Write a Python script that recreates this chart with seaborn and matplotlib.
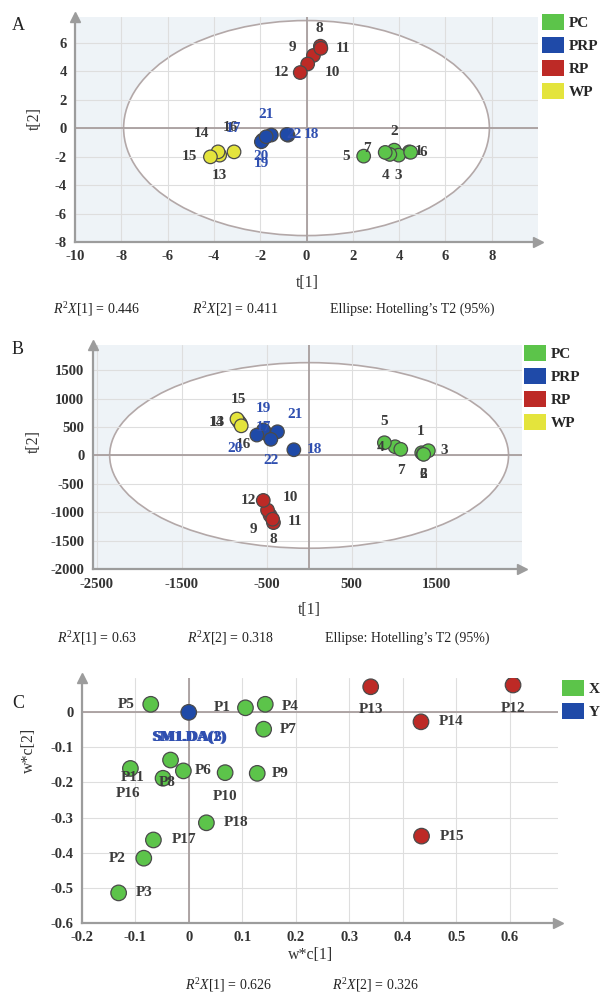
import matplotlib
matplotlib.use("Agg")
import matplotlib.pyplot as plt
import seaborn as sns
import pandas as pd
from matplotlib.patches import Ellipse, Patch
from matplotlib.ticker import MultipleLocator

sns.set_style("white")
plt.rcParams['font.family'] = ['Liberation Serif', 'DejaVu Serif']
plt.rcParams['mathtext.fontset'] = 'custom'
plt.rcParams['mathtext.rm'] = 'Liberation Serif'
plt.rcParams['mathtext.it'] = 'Liberation Serif:italic'
plt.rcParams['axes.unicode_minus'] = False

# ---------------- data ----------------
# Panel A (PCA scores)
a_labels = ['1', '2', '3', '4', '5', '6', '7',
            '8', '9', '10', '11', '12',
            '13', '14', '15', '16',
            '17', '18', '19', '20', '21', '22']
a_t1 = [4.44, 3.79, 3.98, 3.60, 2.47, 4.50, 3.40,
        0.60, 0.30, 0.05, 0.62, -0.27,
        -3.75, -3.82, -4.15, -3.13,
        -1.52, -0.80, -1.90, -1.95, -1.74, -0.85]
a_t2 = [-1.67, -1.55, -1.90, -1.85, -1.97, -1.70, -1.71,
        5.75, 5.10, 4.50, 5.60, 3.90,
        -1.90, -1.67, -2.02, -1.67,
        -0.49, -0.50, -0.85, -0.96, -0.61, -0.45]
a_group = ['PC'] * 7 + ['RP'] * 5 + ['WP'] * 4 + ['PRP'] * 6

# Panel B (PLS-DA scores)
b_labels = a_labels
b_t1 = [1327, 1346, 1405, 1013, 887, 1350, 1080,
        -420, -460, -490, -430, -540,
        -810, -830, -850, -800,
        -500, -180, -538, -616, -373, -451]
b_t2 = [47, 25, 83, 153, 223, 20, 107,
        -1180, -1050, -960, -1120, -790,
        560, 600, 640, 520,
        380, 100, 446, 358, 416, 283]
b_group = a_group

# Panel C (loadings)
c_labels = ['P1', 'P2', 'P3', 'P4', 'P5', 'P6', 'P7', 'P8', 'P9', 'P10',
            'P11', 'P16', 'P17', 'P18', 'P12', 'P13', 'P14', 'P15', 'SM1.DA(1)']
c_w1 = [0.106, -0.084, -0.131, 0.143, -0.071, -0.010, 0.140, -0.048, 0.128, 0.068,
        -0.109, -0.034, -0.066, 0.033, 0.606, 0.340, 0.434, 0.435, 0.0]
c_w2 = [0.013, -0.416, -0.515, 0.023, 0.023, -0.167, -0.048, -0.188, -0.174, -0.172,
        -0.160, -0.136, -0.364, -0.315, 0.078, 0.073, -0.027, -0.353, 0.0]
c_group = ['X'] * 14 + ['R'] * 4 + ['Y']

a_stats = ["$R^2X$[1] = 0.446", "$R^2X$[2] = 0.411", "Ellipse: Hotelling\u2019s T2 (95%)"]
b_stats = ["$R^2X$[1] = 0.63", "$R^2X$[2] = 0.318", "Ellipse: Hotelling\u2019s T2 (95%)"]
c_stats = ["$R^2X$[1] = 0.626", "$R^2X$[2] = 0.326"]

# ---------------- styles ----------------
pal = {'PC': '#5cc44a', 'PRP': '#1f4aa8', 'RP': '#bd2a26', 'WP': '#e4e43c',
       'X': '#5cc44a', 'Y': '#1f4aa8', 'R': '#bd2a26'}
lab_col = {'PC': '#3c3c3c', 'RP': '#3c3c3c', 'WP': '#3c3c3c', 'PRP': '#2f4fb0',
           'X': '#3c3c3c', 'R': '#3c3c3c', 'Y': '#2f4fb0'}
spine_c = '#9c9c9c'

# label offsets in pixels
a_off = {'1': (9, 0), '2': (0, 19), '3': (0, -20), '4': (-4, -21), '5': (-18, 0),
         '6': (13, 0), '7': (-18, 4),
         '8': (-1, 18), '9': (-21, 8), '10': (25, -9), '11': (22, 0), '12': (-19, 0),
         '13': (0, -20), '14': (-17, 18), '15': (-21, 0), '16': (-4, 24),
         '17': (-38, 7), '18': (23, 1), '19': (-1, -23), '20': (0, -15),
         '21': (0, 22), '22': (7, 0)}
b_off = {'1': (-1, 21), '2': (0, -20), '3': (16, 0), '4': (-15, -1), '5': (0, 21),
         '6': (0, -20), '7': (0, -21),
         '8': (0, -17), '9': (-17, -14), '10': (23, 13), '11': (22, -2), '12': (-15, 0),
         '13': (-23, 1), '14': (-22, -1), '15': (1, 20), '16': (2, -19),
         '17': (-3, 6), '18': (21, 0), '19': (0, 22), '20': (-22, -13),
         '21': (18, 17), '22': (0, -21)}
c_off = {'P1': (-23, 0), 'P2': (-27, 0), 'P3': (26, 0), 'P4': (25, -2), 'P5': (-25, 0),
         'P6': (20, 0), 'P7': (25, 0), 'P8': (4, -4), 'P9': (23, 0), 'P10': (0, -24),
         'P11': (2, -9), 'P16': (-42, -33), 'P17': (31, 0), 'P18': (30, 0),
         'P12': (0, -23), 'P13': (0, -23), 'P14': (30, 0), 'P15': (31, 0),
         'SM1.DA(1)': (0, -25)}

fig = plt.figure(figsize=(6.02, 9.96), dpi=100)
W, H = 602.0, 996.0


def px_axes(l, t, r, b):
    return fig.add_axes([l / W, 1 - b / H, (r - l) / W, (b - t) / H])


def style(ax, xlim, ylim, xt, yt, xmin, ymin, bg):
    ax.set_facecolor(bg)
    ax.set_xlim(*xlim)
    ax.set_ylim(*ylim)
    ax.set_xticks(xt)
    ax.set_yticks(yt)
    ax.xaxis.set_minor_locator(MultipleLocator(xmin))
    ax.yaxis.set_minor_locator(MultipleLocator(ymin))
    ax.set_axisbelow(True)
    ax.grid(True, which='major', color='#dedede', lw=0.8)
    for s in ['top', 'right']:
        ax.spines[s].set_visible(False)
    for s in ['left', 'bottom']:
        ax.spines[s].set_color(spine_c)
        ax.spines[s].set_linewidth(1.6)
    ax.tick_params(which='major', direction='out', length=4, width=1, color=spine_c,
                   labelsize=10.5, labelcolor='#333333', pad=2)
    ax.tick_params(which='minor', direction='in', length=3, width=0.8, color=spine_c)
    for lbl in ax.get_xticklabels() + ax.get_yticklabels():
        lbl.set_fontweight('bold')
    ax.plot([0], [1], marker='^', ms=7, color=spine_c, transform=ax.transAxes, clip_on=False)
    ax.plot([1], [0], marker='>', ms=7, color=spine_c, transform=ax.transAxes, clip_on=False)
    ax.axhline(0, color='#a89e9e', lw=1.3, zorder=1)
    ax.axvline(0, color='#a89e9e', lw=1.3, zorder=1)


def draw_points(ax, df, xcol, ycol, offs, s):
    sns.scatterplot(data=df, x=xcol, y=ycol, hue='group', palette=pal, s=s,
                    edgecolor='#4a4a4a', linewidth=0.9, legend=False, ax=ax, zorder=3)
    for _, row in df.iterrows():
        dx, dy = offs[row['label']]
        ax.annotate(row['label'], (row[xcol], row[ycol]), xytext=(dx, dy),
                    textcoords='offset pixels', ha='center', va='center',
                    fontsize=11, fontweight='bold', color=lab_col[row['group']], zorder=4)


def legend(names, x, y):
    handles = [Patch(facecolor=pal[n], edgecolor='none') for n in names]
    fig.legend(handles, names, loc='upper left', bbox_to_anchor=(x / W, 1 - y / H),
               frameon=False, handlelength=1.45, handleheight=1.25,
               handletextpad=0.3, labelspacing=0.45, borderpad=0, borderaxespad=0,
               prop={'family': 'Liberation Serif', 'weight': 'bold', 'size': 11})


# ---------------- Panel A ----------------
axA = px_axes(75, 17, 538, 242)
style(axA, (-10, 10), (-8, 7.8), range(-10, 9, 2), range(-8, 7, 2), 1, 0.5, '#eef3f7')
axA.add_patch(Ellipse((0, 0), 2 * 7.9, 2 * 7.55, facecolor='white', edgecolor='#b3a8a8',
                      lw=1.2, zorder=0.3))
dfA = pd.DataFrame({'label': a_labels, 't1': a_t1, 't2': a_t2, 'group': a_group})
draw_points(axA, dfA, 't1', 't2', a_off, 95)
axA.set_xlabel('t[1]', fontsize=11.5, color='#333333')
axA.set_ylabel('t[2]', fontsize=11.5, color='#333333')
axA.xaxis.label.set_va('center')
axA.yaxis.label.set_va('center')
axA.xaxis.set_label_coords(0.501, -0.182)
axA.yaxis.set_label_coords(-0.086, 0.551)
legend(['PC', 'PRP', 'RP', 'WP'], 542, 14)
fig.text(18 / W, 1 - 25 / H, 'A', fontsize=13, ha='center', va='center', color='#222222')
for txt, xx in zip(a_stats, [53, 192, 330]):
    fig.text(xx / W, 1 - 309 / H, txt, fontsize=10, ha='left', va='center', color='#222222')

# ---------------- Panel B ----------------
axB = px_axes(92.7, 345, 521.7, 569.3)
style(axB, (-2550, 2505), (-2000, 1940), [-2500, -1500, -500, 500, 1500],
      range(-2000, 1501, 500), 250, 100, '#eef3f7')
axB.add_patch(Ellipse((0, 0), 2 * 2350, 2 * 1630, facecolor='white', edgecolor='#b3a8a8',
                      lw=1.2, zorder=0.3))
dfB = pd.DataFrame({'label': b_labels, 't1': b_t1, 't2': b_t2, 'group': b_group})
draw_points(axB, dfB, 't1', 't2', b_off, 95)
axB.set_xlabel('t[1]', fontsize=11.5, color='#333333')
axB.set_ylabel('t[2]', fontsize=11.5, color='#333333')
axB.xaxis.label.set_va('center')
axB.yaxis.label.set_va('center')
axB.xaxis.set_label_coords(0.504, -0.181)
axB.yaxis.set_label_coords(-0.138, 0.569)
legend(['PC', 'PRP', 'RP', 'WP'], 524, 345)
fig.text(18 / W, 1 - 350 / H, 'B', fontsize=13, ha='center', va='center', color='#222222')
for txt, xx in zip(b_stats, [57, 187, 325]):
    fig.text(xx / W, 1 - 638 / H, txt, fontsize=10, ha='left', va='center', color='#222222')

# ---------------- Panel C ----------------
axC = px_axes(81.7, 678, 558, 922.7)
style(axC, (-0.2, 0.69), (-0.6, 0.098), [round(v * 0.1, 1) for v in range(-2, 7)],
      [round(v * 0.1, 1) for v in range(-6, 1)], 0.05, 0.05, 'white')
axC.set_xticklabels(['-0.2', '-0.1', '0', '0.1', '0.2', '0.3', '0.4', '0.5', '0.6'])
axC.set_yticklabels(['-0.6', '-0.5', '-0.4', '-0.3', '-0.2', '-0.1', '0'])
for lbl in axC.get_xticklabels() + axC.get_yticklabels():
    lbl.set_fontweight('bold')
dfC = pd.DataFrame({'label': c_labels, 'w1': c_w1, 'w2': c_w2, 'group': c_group})
draw_points(axC, dfC, 'w1', 'w2', c_off, 125)
# overlapping Y-variable labels
for k, extra in enumerate(['SM1.DA(2)', 'SM1.DA(3)']):
    axC.annotate(extra, (0, 0), xytext=(0.5 * (k + 1), -25), textcoords='offset pixels',
                 ha='center', va='center', fontsize=11, fontweight='bold',
                 color=lab_col['Y'], zorder=4)
axC.set_xlabel('w*c[1]', fontsize=11.5, color='#333333')
axC.set_ylabel('w*c[2]', fontsize=11.5, color='#333333')
axC.xaxis.label.set_va('center')
axC.yaxis.label.set_va('center')
axC.xaxis.set_label_coords(0.481, -0.13)
axC.yaxis.set_label_coords(-0.110, 0.706)
legend(['X', 'Y'], 562, 680)
fig.text(18 / W, 1 - 703 / H, 'C', fontsize=13, ha='center', va='center', color='#222222')
for txt, xx in zip(c_stats, [185, 332]):
    fig.text(xx / W, 1 - 985 / H, txt, fontsize=10, ha='left', va='center', color='#222222')

fig.savefig('out.png', dpi=100, facecolor='white')
